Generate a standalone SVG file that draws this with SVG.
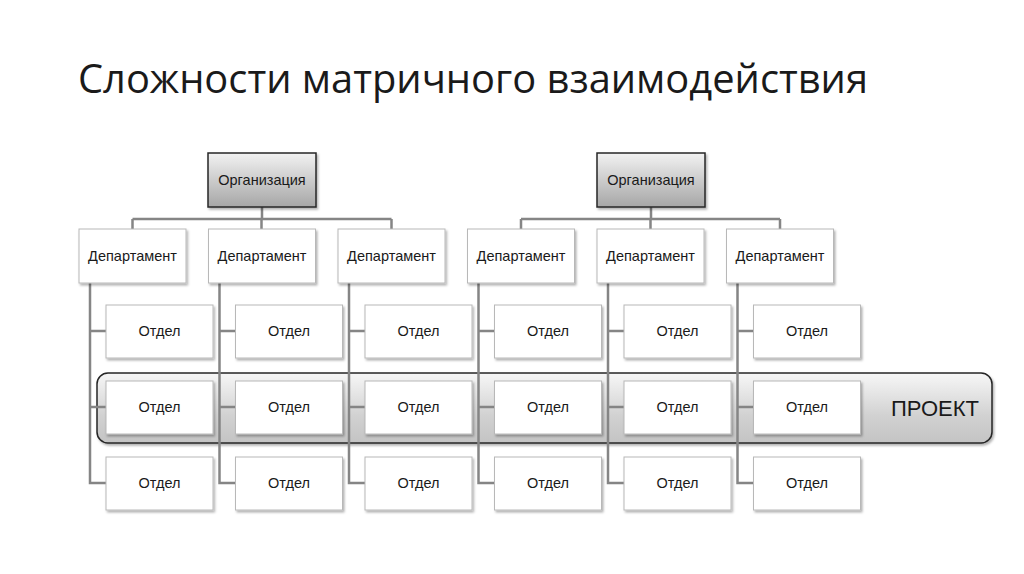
<svg xmlns="http://www.w3.org/2000/svg" width="1024" height="574" viewBox="0 0 1024 574">
<defs>
<linearGradient id="gOrg" x1="0" y1="0" x2="0" y2="1"><stop offset="0" stop-color="#f2f2f2"/><stop offset="1" stop-color="#a6a6a6"/></linearGradient>
<linearGradient id="gBand" x1="0" y1="0" x2="0" y2="1"><stop offset="0" stop-color="#f7f7f7"/><stop offset="0.6" stop-color="#d2d2d2"/><stop offset="1" stop-color="#c4c4c4"/></linearGradient>
<filter id="sh" x="-10%" y="-10%" width="130%" height="140%"><feDropShadow dx="1.5" dy="2" stdDeviation="1.2" flood-color="#000" flood-opacity="0.3"/></filter>
</defs>
<style>
.org{fill:url(#gOrg);stroke:#262626;stroke-width:1.5;filter:url(#sh)}
.box{fill:#fff;stroke:#b8b8b8;stroke-width:1;filter:url(#sh)}
.t{font-family:"Liberation Sans",Arial,sans-serif;font-size:14.5px;fill:#1a1a1a;text-anchor:middle;dominant-baseline:central}
.c{fill:none;stroke:#858585;stroke-width:2.5}
</style>
<rect width="1024" height="574" fill="#fff"/>
<text x="78" y="93" font-family="'Open Sans','Liberation Sans',sans-serif" font-size="40" fill="#1a1a1a" textLength="790" lengthAdjust="spacingAndGlyphs">Сложности матричного взаимодействия</text>

<g id="project">
<rect x="97" y="373" width="895" height="70" rx="11" fill="url(#gBand)" stroke="#262626" stroke-width="1.5" filter="url(#sh)"/>
<text x="935" y="408" font-family="'Liberation Sans',Arial,sans-serif" font-size="22" fill="#1a1a1a" text-anchor="middle" dominant-baseline="central">ПРОЕКТ</text>
</g>

<g id="connectors">
<path class="c" d="M262,207V219M132.5,219H391.5M132.5,219V229M261.5,219V229M391.5,219V229"/>
<path class="c" d="M651,207V219M521,219H780M521,219V229M650.5,219V229M780,219V229"/>
<path class="c" d="M90,283V483H106M90,331H106M90,407H106"/>
<path class="c" d="M219.5,283V483H235.5M219.5,331H235.5M219.5,407H235.5"/>
<path class="c" d="M349,283V483H365M349,331H365M349,407H365"/>
<path class="c" d="M478.5,283V483H494.5M478.5,331H494.5M478.5,407H494.5"/>
<path class="c" d="M608,283V483H624M608,331H624M608,407H624"/>
<path class="c" d="M737.5,283V483H753.5M737.5,331H753.5M737.5,407H753.5"/>
</g>

<g id="org1"><rect class="org" x="208" y="153" width="108" height="54"/><text class="t" x="262" y="180">Организация</text></g>
<g id="org2"><rect class="org" x="597" y="153" width="108" height="54"/><text class="t" x="651" y="180">Организация</text></g>

<g id="dept1"><rect class="box" x="79" y="229" width="107" height="54"/><text class="t" x="132.5" y="256">Департамент</text></g>
<g id="dept2"><rect class="box" x="208.5" y="229" width="107" height="54"/><text class="t" x="262" y="256">Департамент</text></g>
<g id="dept3"><rect class="box" x="338" y="229" width="107" height="54"/><text class="t" x="391.5" y="256">Департамент</text></g>
<g id="dept4"><rect class="box" x="467.5" y="229" width="107" height="54"/><text class="t" x="521" y="256">Департамент</text></g>
<g id="dept5"><rect class="box" x="597" y="229" width="107" height="54"/><text class="t" x="650.5" y="256">Департамент</text></g>
<g id="dept6"><rect class="box" x="726.5" y="229" width="107" height="54"/><text class="t" x="780" y="256">Департамент</text></g>

<g id="o11"><rect class="box" x="106" y="305" width="107" height="53"/><text class="t" x="159.5" y="331">Отдел</text></g>
<g id="o12"><rect class="box" x="106" y="381" width="107" height="53"/><text class="t" x="159.5" y="407">Отдел</text></g>
<g id="o13"><rect class="box" x="106" y="457" width="107" height="53"/><text class="t" x="159.5" y="483">Отдел</text></g>
<g id="o21"><rect class="box" x="235.5" y="305" width="107" height="53"/><text class="t" x="289" y="331">Отдел</text></g>
<g id="o22"><rect class="box" x="235.5" y="381" width="107" height="53"/><text class="t" x="289" y="407">Отдел</text></g>
<g id="o23"><rect class="box" x="235.5" y="457" width="107" height="53"/><text class="t" x="289" y="483">Отдел</text></g>
<g id="o31"><rect class="box" x="365" y="305" width="107" height="53"/><text class="t" x="418.5" y="331">Отдел</text></g>
<g id="o32"><rect class="box" x="365" y="381" width="107" height="53"/><text class="t" x="418.5" y="407">Отдел</text></g>
<g id="o33"><rect class="box" x="365" y="457" width="107" height="53"/><text class="t" x="418.5" y="483">Отдел</text></g>
<g id="o41"><rect class="box" x="494.5" y="305" width="107" height="53"/><text class="t" x="548" y="331">Отдел</text></g>
<g id="o42"><rect class="box" x="494.5" y="381" width="107" height="53"/><text class="t" x="548" y="407">Отдел</text></g>
<g id="o43"><rect class="box" x="494.5" y="457" width="107" height="53"/><text class="t" x="548" y="483">Отдел</text></g>
<g id="o51"><rect class="box" x="624" y="305" width="107" height="53"/><text class="t" x="677.5" y="331">Отдел</text></g>
<g id="o52"><rect class="box" x="624" y="381" width="107" height="53"/><text class="t" x="677.5" y="407">Отдел</text></g>
<g id="o53"><rect class="box" x="624" y="457" width="107" height="53"/><text class="t" x="677.5" y="483">Отдел</text></g>
<g id="o61"><rect class="box" x="753.5" y="305" width="107" height="53"/><text class="t" x="807" y="331">Отдел</text></g>
<g id="o62"><rect class="box" x="753.5" y="381" width="107" height="53"/><text class="t" x="807" y="407">Отдел</text></g>
<g id="o63"><rect class="box" x="753.5" y="457" width="107" height="53"/><text class="t" x="807" y="483">Отдел</text></g>
</svg>
